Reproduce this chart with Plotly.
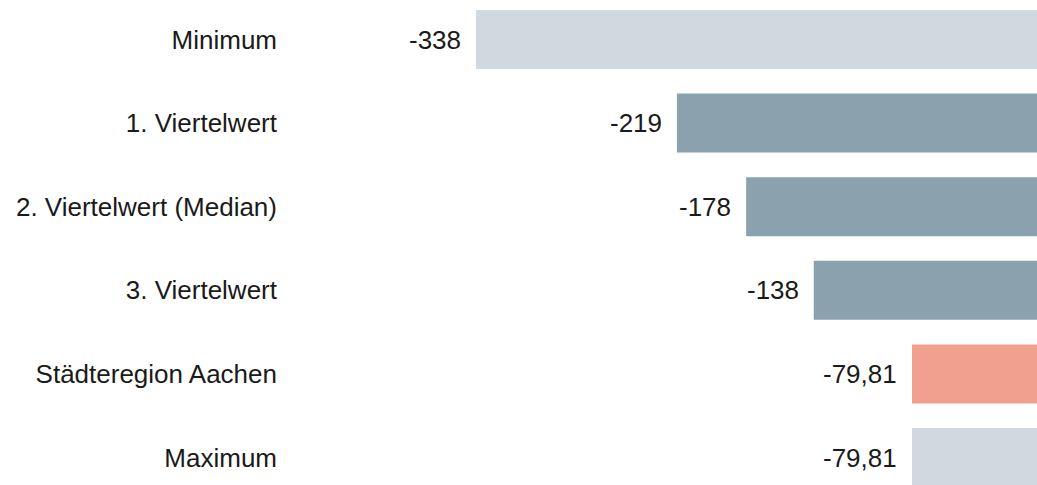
import plotly.graph_objects as go

# Kennzahlen je Kategorie (Werte negativ)
categories = ["Minimum", "1. Viertelwert", "2. Viertelwert (Median)",
              "3. Viertelwert", "Städteregion Aachen", "Maximum"]
values = [-338, -219, -178, -138, -79.81, -79.81]
value_labels = ["-338", "-219", "-178", "-138", "-79,81", "-79,81"]
bar_colors = ["#D0D9DF", "#8BA2AE", "#8BA2AE", "#8BA2AE", "#F19F8F", "#D0D9DF"]

FONT = "Liberation Sans, Arial, sans-serif"
FONT_SIZE = 26

fig = go.Figure(go.Bar(
    y=categories,
    x=values,
    orientation="h",
    width=0.706,
    marker=dict(color=bar_colors, line=dict(width=0)),
    hoverinfo="skip",
))

# Wertbeschriftungen links neben dem Balkenende
for cat, val, lab in zip(categories, values, value_labels):
    fig.add_annotation(
        x=val, y=cat, text=lab, showarrow=False,
        xanchor="right", yanchor="middle", xshift=-13,
        font=dict(family=FONT, size=FONT_SIZE, color="#1a1a1a"),
    )

fig.update_layout(
    width=1037, height=485,
    margin=dict(l=290, r=0, t=0, b=0),
    paper_bgcolor="white", plot_bgcolor="white",
    showlegend=False,
    font=dict(family=FONT, size=FONT_SIZE, color="#1a1a1a"),
)
fig.update_xaxes(range=[-448.1, -5.8], visible=False, showgrid=False, zeroline=False)
fig.update_yaxes(
    type="category", categoryorder="array", categoryarray=categories,
    range=[5.329, -0.4725], showgrid=False, zeroline=False, showline=False,
    ticks="", ticklabelstandoff=12,
    tickfont=dict(family=FONT, size=FONT_SIZE, color="#1a1a1a"),
)

fig.write_html("out.html")
